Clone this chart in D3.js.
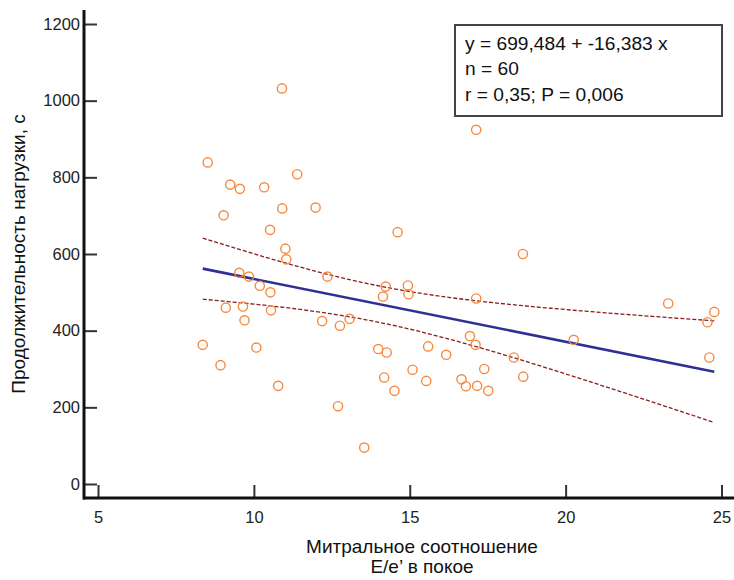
<!DOCTYPE html>
<html><head><meta charset="utf-8">
<script src="https://cdn.jsdelivr.net/npm/d3@7"></script>
<style>body{margin:0;background:#fff;} text{font-family:"Liberation Sans",Arial,sans-serif;}</style>
</head><body>
<svg id="c" width="734" height="580"></svg>
<script>
const xValues = [10.90,8.52,9.24,9.55,10.33,11.39,9.03,10.91,11.98,10.52,14.61,11.01,11.04,12.36,9.53,9.84,10.19,10.53,14.23,14.14,
  9.10,9.65,10.55,9.70,12.19,12.76,13.07,8.36,10.08,8.93,10.78,12.70,13.54,13.99,14.26,14.18,14.51,17.13,18.63,14.94,
  14.96,17.13,23.29,24.77,24.55,24.61,20.26,16.93,17.11,18.34,15.59,16.17,15.09,15.53,16.66,16.80,17.16,17.39,17.52,18.64];
const yValues = [1032,839,781,770,774,808,701,719,721,663,657,614,586,541,551,541,517,500,515,489,
  460,463,453,427,425,413,431,363,356,310,256,203,95,352,343,278,243,924,600,518,
  495,484,471,449,422,330,376,386,363,330,359,337,298,269,273,255,256,300,243,280];
const xTicks = [5,10,15,20,25];
const yTicks = [0,200,400,600,800,1000,1200];
const legendLines = ["y = 699,484 + -16,383 x","n = 60","r = 0,35; P = 0,006"];
const xTitle = ["Митральное соотношение","E/e\u2019 в покое"];
const yTitle = "Продолжительность нагрузки, с";

const svg = d3.select("#c");
const x = d3.scaleLinear().domain([5,25]).range([98,721.5]);
const y = d3.scaleLinear().domain([0,1200]).range([484,24]);
const axX0 = 84, axY0 = 498;

// regression from data
const n = xValues.length;
const mx = d3.mean(xValues), my = d3.mean(yValues);
let sxx=0, sxy=0;
for (let i=0;i<n;i++){ sxx+=(xValues[i]-mx)**2; sxy+=(xValues[i]-mx)*(yValues[i]-my); }
const b = sxy/sxx, a = my - b*mx;
let sse=0; for (let i=0;i<n;i++){ sse+=(yValues[i]-a-b*xValues[i])**2; }
const s = Math.sqrt(sse/(n-2)), tcrit = 2.0017;
const xmin = d3.min(xValues), xmax = d3.max(xValues);
const xs = d3.range(0,51).map(i=>xmin+(xmax-xmin)*i/50);
const hw = v => tcrit*s*Math.sqrt(1/n + (v-mx)**2/sxx);

// axes
const gx = svg.append("g").attr("transform",`translate(0,${axY0})`)
  .call(d3.axisBottom(x).tickValues(xTicks).tickFormat(d3.format("d")).tickSize(-13).tickPadding(10));
gx.select(".domain").remove();
gx.selectAll(".tick line").attr("stroke","#333").attr("stroke-width",2);
gx.selectAll(".tick text").attr("font-size",16.5).attr("fill","#222").attr("dy","0.9em");
svg.append("line").attr("x1",axX0-1).attr("x2",734).attr("y1",axY0).attr("y2",axY0).attr("stroke","#111").attr("stroke-width",3);

const gy = svg.append("g").attr("transform",`translate(${axX0},0)`)
  .call(d3.axisLeft(y).tickValues(yTicks).tickFormat(d3.format("d")).tickSize(-13).tickPadding(4));
gy.select(".domain").remove();
gy.selectAll(".tick line").attr("stroke","#333").attr("stroke-width",2);
gy.selectAll(".tick text").attr("font-size",16.5).attr("fill","#222");
svg.append("line").attr("x1",axX0).attr("x2",axX0).attr("y1",10).attr("y2",axY0+1.5).attr("stroke","#111").attr("stroke-width",3);

// titles
svg.append("text").attr("x",422).attr("y",553).attr("text-anchor","middle").attr("font-size",19).attr("fill","#111").text(xTitle[0]);
svg.append("text").attr("x",422).attr("y",573).attr("text-anchor","middle").attr("font-size",19).attr("fill","#111").text(xTitle[1]);
svg.append("text").attr("transform","translate(25,254) rotate(-90)").attr("text-anchor","middle").attr("font-size",19).attr("fill","#111").text(yTitle);

// CI bands
const line = d3.line().x(d=>x(d[0])).y(d=>y(d[1]));
svg.append("path").attr("d",line(xs.map(v=>[v,a+b*v+hw(v)]))).attr("fill","none").attr("stroke","#8b1c1c").attr("stroke-width",1.3).attr("stroke-dasharray","4,2");
svg.append("path").attr("d",line(xs.map(v=>[v,a+b*v-hw(v)]))).attr("fill","none").attr("stroke","#8b1c1c").attr("stroke-width",1.3).attr("stroke-dasharray","4,2");
// regression line
svg.append("path").attr("d",line([[xmin,a+b*xmin],[xmax,a+b*xmax]])).attr("fill","none").attr("stroke","#2e3192").attr("stroke-width",2.6);

// points
svg.append("g").selectAll("circle").data(xValues.map((v,i)=>[v,yValues[i]])).join("circle")
  .attr("cx",d=>x(d[0])).attr("cy",d=>y(d[1])).attr("r",4.6)
  .attr("fill","none").attr("stroke","#f7893f").attr("stroke-width",1.4);

// legend box
svg.append("rect").attr("x",455).attr("y",25).attr("width",267).attr("height",91).attr("fill","#fff").attr("stroke","#444").attr("stroke-width",2);
legendLines.forEach((t,i)=>{
  svg.append("text").attr("x",465).attr("y",[50,75,101][i]).attr("font-size",19.2).attr("fill","#111").text(t);
});
</script>
</body></html>
